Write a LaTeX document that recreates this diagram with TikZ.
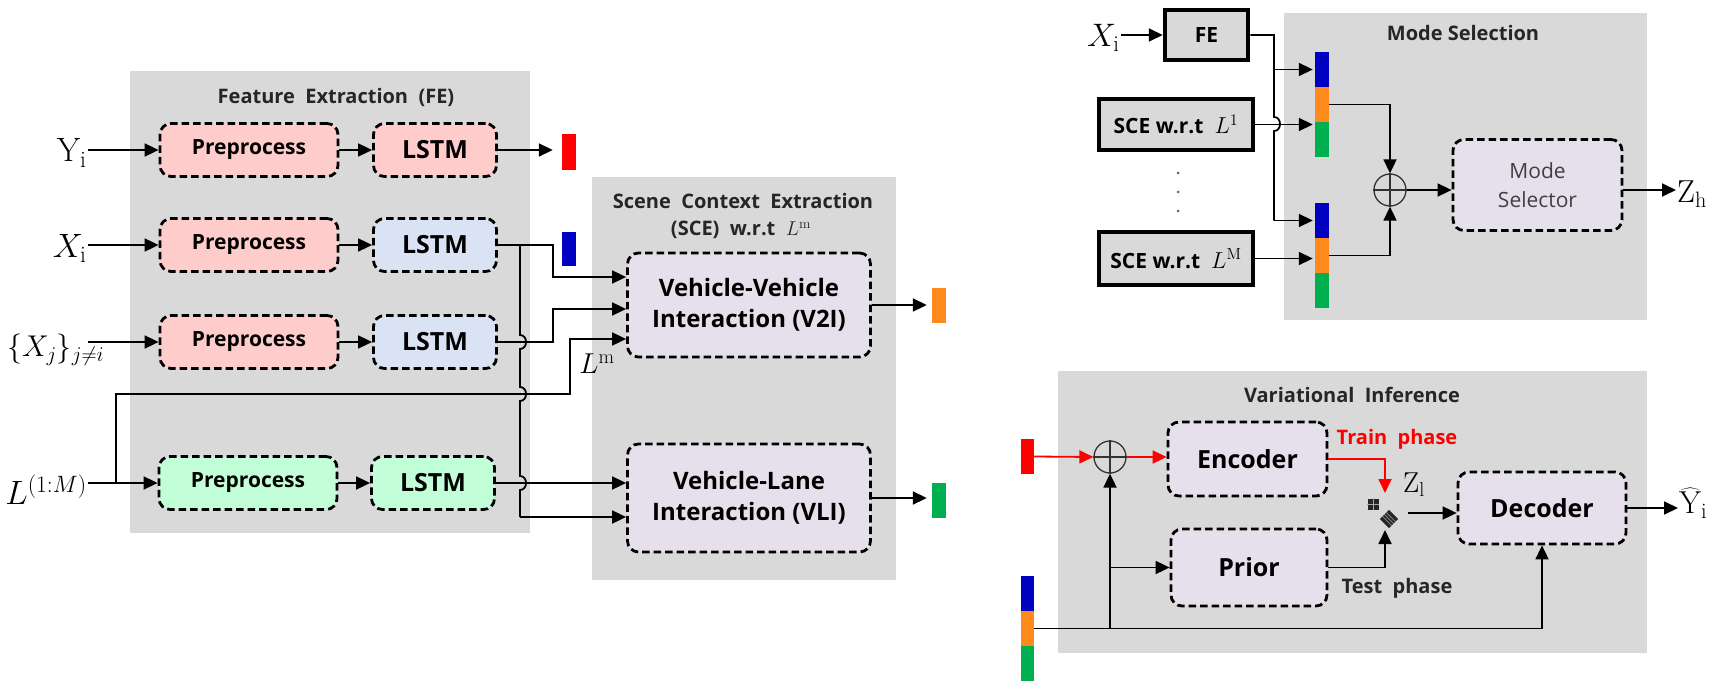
\RequirePackage{fix-cm}
\documentclass[tikz,border=0pt]{standalone}
\usepackage{fontspec}
\usetikzlibrary{arrows.meta,calc}
\newfontfamily\osans{Open Sans}
\newcommand{\biglab}[2][1.2]{\scalebox{#1}{$#2$}}
\definecolor{bggray}{HTML}{D9D9D9}
\definecolor{pinkf}{HTML}{FFCCCC}
\definecolor{bluef}{HTML}{DAE3F3}
\definecolor{greenf}{HTML}{C2FFD9}
\definecolor{lavf}{HTML}{E6E0EC}
\definecolor{barblue}{HTML}{0000C0}
\definecolor{barorange}{HTML}{FF8A1C}
\definecolor{bargreen}{HTML}{00B050}
\definecolor{barred}{HTML}{FF0000}
\begin{document}
\begin{tikzpicture}[x=1pt,y=-1pt,
 dbox/.style={draw=black, line width=2.8pt, dash pattern=on 7.5pt off 4pt, rounded corners=11pt, inner sep=0pt, align=center},
 prebox/.style={dbox, minimum width=178pt, minimum height=53pt, font=\osans\bfseries\fontsize{21}{24}\selectfont},
 lstmbox/.style={dbox, minimum width=123pt, minimum height=53pt, font=\osans\bfseries\fontsize{25}{28}\selectfont},
 bigbox/.style={dbox, fill=lavf, font=\osans\bfseries\fontsize{24}{31}\selectfont},
 tbox/.style={draw=black, line width=4.5pt, fill=bggray, inner sep=0pt, font=\osans\bfseries\fontsize{21}{24}\selectfont},
 ttl/.style={inner sep=0pt, font=\osans\bfseries\fontsize{20}{23}\selectfont, text=black!85},
 mlab/.style={inner sep=1pt, font=\fontsize{25}{30}\selectfont},
 conn/.style={line width=1.8pt, -{Triangle[length=14pt,width=13pt]}},
 wire/.style={line width=1.8pt},
 bar/.style={inner sep=0pt, minimum width=14pt, minimum height=35pt},
 oplus/.style={circle, draw=black!80, line width=1.3pt, minimum size=32pt, inner sep=0pt},
 crossl/.style={line width=1.3pt, draw=black!80},
]
\useasboundingbox (0,0) rectangle (1718,687);
% backgrounds
\fill[bggray] (130,71) rectangle (530,533);
\fill[bggray] (592,177) rectangle (896,580);
\fill[bggray] (1284,13) rectangle (1647,320);
\fill[bggray] (1058,371) rectangle (1647,653);

% ---------------- Feature Extraction ----------------
\node[ttl] (fet) at (336,97) {Feature~~Extraction~~(FE)};
\node[prebox, fill=pinkf] (pre1) at (249,150) {Preprocess};
\node[lstmbox, fill=pinkf] (lstm1) at (435,150) {LSTM};
\node[prebox, fill=pinkf] (pre2) at (249,245) {Preprocess};
\node[lstmbox, fill=bluef] (lstm2) at (435,245) {LSTM};
\node[prebox, fill=pinkf] (pre3) at (249,342) {Preprocess};
\node[lstmbox, fill=bluef] (lstm3) at (435,342) {LSTM};
\node[prebox, fill=greenf] (pre4) at (248,483) {Preprocess};
\node[lstmbox, fill=greenf] (lstm4) at (433,483) {LSTM};

\node[mlab, anchor=east] (yi) at (88,153) {\biglab[1.35]{\mathrm{Y}_{\mathrm{i}}}};
\node[mlab, anchor=east] (xi) at (88,248) {\biglab[1.35]{X_{\mathrm{i}}}};
\node[mlab, anchor=west] (xj) at (6,350) {\biglab{\{X_j\}_{j\neq i}}};
\coordinate (xjo) at (88,342);
\node[mlab, anchor=east] (lall) at (88,490) {\biglab[1.35]{L^{(1:M)}}};
\coordinate (lo) at (88,483);

\draw[conn] (yi.east |- pre1.west) -- (pre1.west);
\draw[conn] (xi.east |- pre2.west) -- (pre2.west);
\draw[conn] (xjo) -- (pre3.west);
\draw[conn] (lo) -- (pre4.west);
\draw[conn] (pre1.east) -- (lstm1.west);
\draw[conn] (pre2.east) -- (lstm2.west);
\draw[conn] (pre3.east) -- (lstm3.west);
\draw[conn] (pre4.east) -- (lstm4.west);

\node[bar, fill=barred, minimum height=36pt] (rb1) at (569,152) {};
\node[bar, fill=barblue, minimum height=34pt] (bb1) at (569,249) {};
\draw[conn, shorten >=9pt] (lstm1.east) -- (lstm1.east -| rb1.west);

% ---------------- Scene Context Extraction ----------------
\node[ttl] (scet1) at (743,201) {Scene~~Context~~Extraction};
\node[ttl] (scet2) at (741,230) {(SCE)~~w.r.t~~$L^{\mathrm{m}}$};
\node[bigbox, minimum width=243pt, minimum height=104pt] (v2i) at (749,305) {Vehicle-Vehicle\\Interaction (V2I)};
\node[bigbox, minimum width=243pt, minimum height=108pt] (vli) at (749,498) {Vehicle-Lane\\Interaction (VLI)};
\node[bar, fill=barorange] (ob) at (939,305) {};
\node[bar, fill=bargreen] (gb) at (939,500) {};
\draw[conn, shorten >=5pt] (v2i.east) -- (ob.west);
\draw[conn, shorten >=5pt] (vli.east) -- (vli.east -| gb.west);

\draw[conn] (lstm2.east) -- (553,245) |- ([yshift=28pt]v2i.west);
\draw[conn] (lstm3.east) -- (553,342) |- ([yshift=-4pt]v2i.west);
\coordinate (lj) at (116,483);
\draw[conn] (lj) -- (116,394) -- (570,394) |- ([yshift=-34pt]v2i.west);
\node[mlab] (lm) at (597,364) {\biglab[1.15]{L^{\mathrm{m}}}};

\coordinate (bj) at (520,245);
\draw[wire] (bj) -- (520,335) .. controls (528,335) and (528,349) .. (520,349)
  -- (520,387) .. controls (528,387) and (528,401) .. (520,401)
  -- (520,476) .. controls (528,476) and (528,490) .. (520,490)
  -- (520,517) coordinate (be);
\draw[conn] (be) -- (be -| vli.west);
\draw[conn] (lstm4.east) -- (lstm4.east -| vli.west);

% ---------------- Mode Selection ----------------
\node[ttl] (mst) at (1463,33) {Mode Selection};
\node[mlab, anchor=east] (xi2) at (1121,38) {\biglab[1.3]{X_{\mathrm{i}}}};
\node[tbox, minimum width=83pt, minimum height=50pt] (febox) at (1206.5,35) {FE};
\draw[conn] (xi2.east |- febox.west) -- (febox.west);
\node[tbox, minimum width=154pt, minimum height=51pt] (sce1) at (1176,124.5) {SCE w.r.t~~\biglab[1.1]{L^{1}}};
\node[tbox, minimum width=154pt, minimum height=53pt] (sceM) at (1176,258.5) {SCE w.r.t~~\biglab[1.1]{L^{\mathrm{M}}}};
\fill[black!60] (1178,173) circle (1.5pt) (1178,192) circle (1.5pt) (1178,211) circle (1.5pt);

\node[bar, fill=barblue] (b1b) at (1322,69.5) {};
\node[bar, fill=barorange] (b1o) at (1322,104.5) {};
\node[bar, fill=bargreen] (b1g) at (1322,139.5) {};
\node[bar, fill=barblue] (b2b) at (1322,220.5) {};
\node[bar, fill=barorange] (b2o) at (1322,255.5) {};
\node[bar, fill=bargreen] (b2g) at (1322,290.5) {};

\draw[wire] (febox.east) -- (1274,35) -- (1274,117) .. controls (1282,117) and (1282,131) .. (1274,131) -- (1274,220.5) coordinate (fe2);
\coordinate (fe1) at (1274,69.5);
\draw[conn, shorten >=2pt] (fe1) -- (b1b.west);
\draw[conn, shorten >=2pt] (fe2) -- (b2b.west);
\draw[conn, shorten >=2pt] (sce1.east) -- (sce1.east -| b1g.west);
\draw[conn, shorten >=2pt] (sceM.east) -- (sceM.east -| b2o.west);

\node[oplus] (op1) at (1390,190) {};
\draw[crossl] (op1.north) -- (op1.south) (op1.west) -- (op1.east);
\draw[conn] (b1o.east) -| (op1.north);
\draw[conn] (b2o.east) -| (op1.south);
\node[dbox, fill=lavf, minimum width=169pt, minimum height=91pt, font=\osans\fontsize{21}{29}\selectfont, text=black!75] (msel) at (1537.5,185) {Mode\\Selector};
\draw[conn] (op1.east) -- (op1.east -| msel.west);
\node[mlab, anchor=west] (zh) at (1676,194) {\biglab[1.27]{\mathrm{Z}_{\mathrm{h}}}};
\coordinate (zhin) at (1676,190);
\draw[conn] (zhin -| msel.east) -- (zhin);

% ---------------- Variational Inference ----------------
\node[ttl] (vit) at (1352,395) {Variational~~Inference};
\node[bar, fill=barred, minimum width=13pt] (rb2) at (1027.5,456.5) {};
\node[oplus] (op2) at (1110,457) {};
\draw[crossl] (op2.north) -- (op2.south) (op2.west) -- (op2.east);
\node[bigbox, minimum width=159pt, minimum height=74pt, font=\osans\bfseries\fontsize{25}{28}\selectfont] (enc) at (1247.5,459) {Encoder};
\node[bigbox, minimum width=156pt, minimum height=77pt, font=\osans\bfseries\fontsize{25}{28}\selectfont] (prior) at (1249,567.5) {Prior};
\node[bigbox, minimum width=168pt, minimum height=72pt, font=\osans\bfseries\fontsize{25}{28}\selectfont] (dec) at (1542,508) {Decoder};
\node[bar, fill=barblue, minimum width=13pt] (b3b) at (1027.5,593.5) {};
\node[bar, fill=barorange, minimum width=13pt] (b3o) at (1027.5,628.5) {};
\node[bar, fill=bargreen, minimum width=13pt] (b3g) at (1027.5,663.5) {};

\draw[conn, color=barred] (rb2.east) -- (op2.west);
\draw[conn, color=barred] (op2.east) -- (op2.east -| enc.west);
\draw[conn] (b3o.east) -| (dec.south);
\draw[conn] (op2.south |- b3o.east) -- (op2.south);
\draw[conn] (op2.south |- prior.west) -- (prior.west);

\node[fill=black!85, minimum size=11pt, inner sep=0pt] (swq) at (1373,504) {};
\draw[gray!70, line width=0.6pt] (swq.north) -- (swq.south) (swq.west) -- (swq.east);
\node[fill=black!85, minimum size=13pt, inner sep=0pt, rotate=45] (swd) at (1389,519) {};
\foreach \t in {0.3,0.5,0.7}
  \draw[gray!70, line width=0.6pt] ($(swd.north west)!\t!(swd.north east)$) -- ($(swd.south west)!\t!(swd.south east)$);
\coordinate (swt) at (1385,493);
\coordinate (swb) at (1385,530);
\coordinate (swr) at (1408,513);
\draw[conn, color=barred] (enc.east) -| (swt);
\draw[conn] (prior.east) -| (swb);
\draw[conn] (swr) -- (swr -| dec.west);
\node[ttl, text=barred] (trp) at (1397,439) {Train~~phase};
\node[ttl] (tsp) at (1397,588) {Test~~phase};
\node[mlab] (zl) at (1414,485) {\biglab[1.15]{\mathrm{Z}_{\mathrm{l}}}};
\node[mlab, anchor=west] (yh) at (1678,503) {\biglab[1.27]{\widehat{\mathrm{Y}}_{\mathrm{i}}}};
\coordinate (yhin) at (1678,508);
\draw[conn] (dec.east) -- (yhin);
\end{tikzpicture}
\end{document}
